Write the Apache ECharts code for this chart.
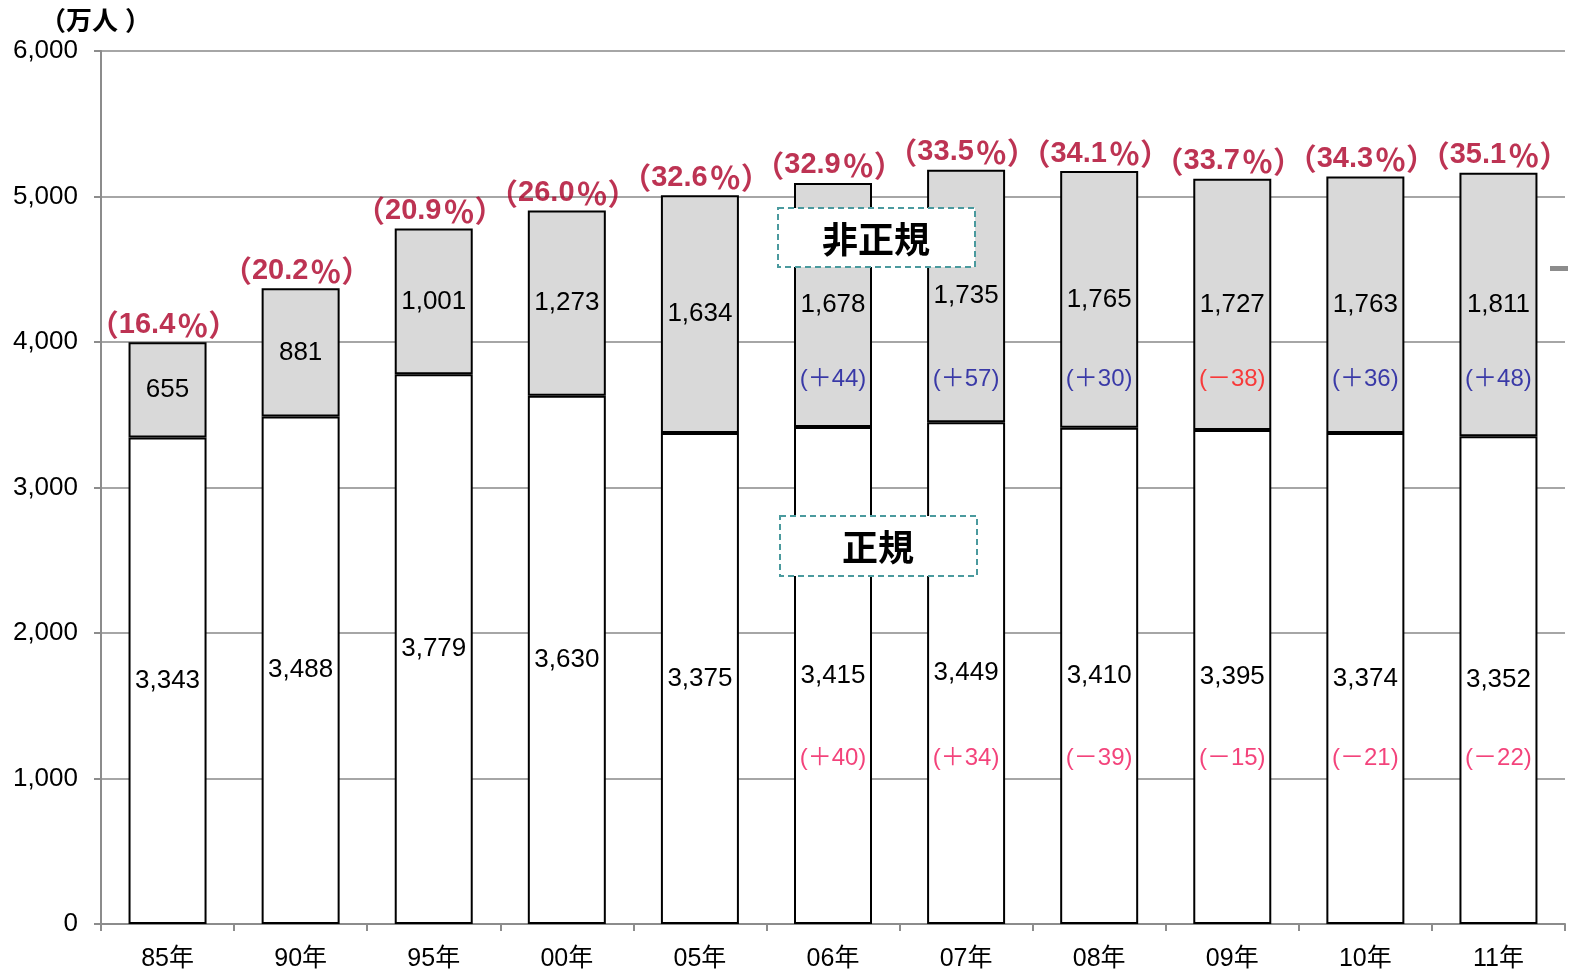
<!DOCTYPE html>
<html><head><meta charset="utf-8">
<script src="https://cdn.jsdelivr.net/npm/echarts@6/dist/echarts.min.js"></script>
<style>html,body{margin:0;padding:0;background:#fff}#c{width:1573px;height:976px}</style>
</head><body><div id="c"></div>
<script>
const categories = ['85年','90年','95年','00年','05年','06年','07年','08年','09年','10年','11年'];
const regular = [3343,3488,3779,3630,3375,3415,3449,3410,3395,3374,3352];
const nonRegular = [655,881,1001,1273,1634,1678,1735,1765,1727,1763,1811];
const nonRegularShare = ['16.4','20.2','20.9','26.0','32.6','32.9','33.5','34.1','33.7','34.3','35.1'];
const regularChange = [null,null,null,null,null,'＋40','＋34','－39','－15','－21','－22'];
const nonRegularChange = [null,null,null,null,null,'＋44','＋57','＋30','－38','＋36','＋48'];
const yTicks = [0,1000,2000,3000,4000,5000,6000];

const NUM_FONT = '"Liberation Sans", Arial, "Noto Sans CJK JP", sans-serif';
const JP_FONT = '"Noto Sans CJK JP", "Liberation Sans", sans-serif';
const fmt = v => v.toLocaleString('en-US');
const NONREG_CHANGE_LEVEL = 3745;
const REG_CHANGE_LEVEL = 1140;

const chart = echarts.init(document.getElementById('c'), null, {renderer:'canvas'});
const totals = regular.map((r,i)=>r+nonRegular[i]);
const PCT_COLOR = '#ac0028';

chart.setOption({
  animation:false,
  grid:{left:101,right:8,top:51,bottom:52},
  xAxis:{
    type:'category', data:categories,
    axisLine:{lineStyle:{color:'#8c8c8c',width:2}},
    axisTick:{show:true,length:7,lineStyle:{color:'#8c8c8c',width:2}},
    axisLabel:{color:'#000',fontSize:25,fontFamily:NUM_FONT,margin:23}
  },
  yAxis:{
    type:'value', min:0, max:6000, interval:1000,
    axisLine:{show:true,lineStyle:{color:'#8c8c8c',width:2}},
    axisTick:{show:true,length:7,lineStyle:{color:'#8c8c8c',width:2}},
    splitLine:{lineStyle:{color:'#a6a6a6',width:2}},
    axisLabel:{color:'#000',fontSize:26,fontFamily:NUM_FONT,margin:23,
      formatter:v=>yTicks.includes(v)?fmt(v):''}
  },
  graphic:[
    {type:'text',left:40,top:7,style:{text:'{l|（}{m|万人}{r|）}',
      rich:{l:{fontSize:26,fontWeight:'bold',fontFamily:JP_FONT,fill:'#000'},
            m:{fontSize:26,fontWeight:'bold',fontFamily:JP_FONT,fill:'#000'},
            r:{padding:[0,0,0,7],fontSize:26,fontWeight:'bold',fontFamily:JP_FONT,fill:'#000'}}}},
    {type:'rect',shape:{x:778,y:208,width:197,height:59},
      style:{fill:'#fff',stroke:'#4a9a9e',lineWidth:2,lineDash:[6,4]},z:100},
    {type:'text',x:876,y:239,z:101,style:{text:'非正規',font:'bold 36px "Noto Sans CJK JP"',fill:'#000',align:'center',verticalAlign:'middle'}},
    {type:'rect',shape:{x:780,y:516,width:197,height:60},
      style:{fill:'#fff',stroke:'#4a9a9e',lineWidth:2,lineDash:[6,4]},z:100},
    {type:'text',x:878,y:547,z:101,style:{text:'正規',font:'bold 36px "Noto Sans CJK JP"',fill:'#000',align:'center',verticalAlign:'middle'}},
    {type:'rect',shape:{x:1550,y:266,width:18,height:5},style:{fill:'#8c8c8c'}}
  ],
  series:[
    {name:'正規',type:'bar',stack:'t',barWidth:78,data:regular,
      itemStyle:{color:'#fff',borderColor:'#000',borderWidth:2},
      label:{show:true,position:'inside',color:'#000',fontSize:26,fontFamily:NUM_FONT,formatter:p=>fmt(p.value)}},
    {name:'非正規',type:'bar',stack:'t',data:nonRegular,
      itemStyle:{color:'#d9d9d9',borderColor:'#000',borderWidth:2},
      label:{show:true,position:'inside',color:'#000',fontSize:26,fontFamily:NUM_FONT,formatter:p=>fmt(p.value)}},
    {type:'scatter',symbolSize:0,silent:true,z:5,
      data:totals,
      label:{show:true,position:'top',distance:2,offset:[-4,0],color:PCT_COLOR,
        formatter:p=>'{l|（}{n|'+nonRegularShare[p.dataIndex]+'}{q|％}{r|）}',
        rich:{
          l:{color:PCT_COLOR,fontSize:30,fontWeight:'bold',fontFamily:JP_FONT},
          n:{color:PCT_COLOR,fontSize:29,fontWeight:'bold',fontFamily:NUM_FONT},
          q:{padding:[0,0,0,2],color:PCT_COLOR,fontSize:31,fontWeight:'bold',fontFamily:JP_FONT},
          r:{color:PCT_COLOR,fontSize:30,fontWeight:'bold',fontFamily:JP_FONT}
        }}},
    {type:'scatter',symbolSize:0,silent:true,z:5,
      data:regularChange.map(c=>c?({value:REG_CHANGE_LEVEL,label:{formatter:'('+c+')'}}):'-'),
      label:{show:true,position:'inside',color:'#f0145a',fontSize:24,fontFamily:NUM_FONT}},
    {type:'scatter',symbolSize:0,silent:true,z:5,
      data:nonRegularChange.map(c=>c?({value:NONREG_CHANGE_LEVEL,label:{formatter:'('+c+')',color:c.startsWith('－')?'#ff1010':'#10109a'}}):'-'),
      label:{show:true,position:'inside',fontSize:24,fontFamily:NUM_FONT}}
  ]
});
</script></body></html>
